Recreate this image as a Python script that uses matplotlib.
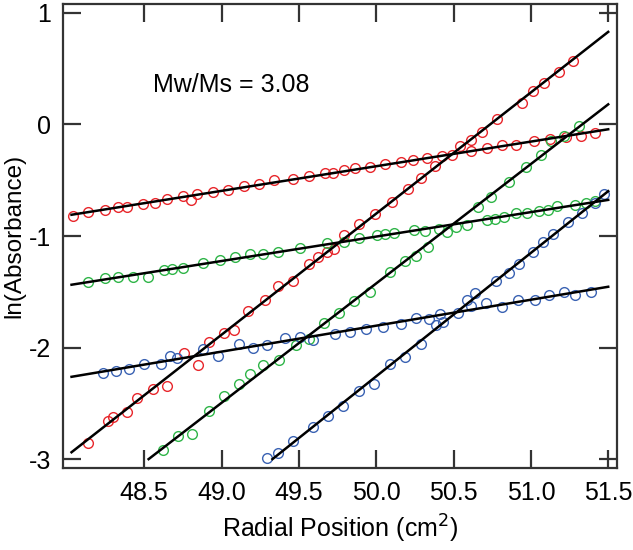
import numpy as np
import matplotlib.pyplot as plt

plt.rcParams['font.family'] = ['Liberation Sans', 'DejaVu Sans']
plt.rcParams['axes.unicode_minus'] = False

# ---- data ----
red_flat_x = [48.037, 48.134, 48.246, 48.330, 48.386, 48.494, 48.567, 48.649, 48.750, 48.802,
              48.843, 48.944, 49.043, 49.143, 49.241, 49.336, 49.463, 49.563, 49.668, 49.722,
              49.791, 49.860, 49.959, 50.060, 50.159, 50.241, 50.327, 50.426, 50.491, 50.616,
              50.717, 50.814, 50.901, 51.017, 51.121, 51.226, 51.321, 51.415]
red_flat_y = [-0.818, -0.787, -0.769, -0.737, -0.743, -0.713, -0.701, -0.668, -0.644, -0.677,
              -0.626, -0.603, -0.587, -0.549, -0.534, -0.498, -0.491, -0.465, -0.438, -0.432,
              -0.411, -0.393, -0.384, -0.357, -0.339, -0.316, -0.296, -0.283, -0.274, -0.235,
              -0.213, -0.181, -0.187, -0.145, -0.127, -0.109, -0.100, -0.079]

red_steep_x = [48.138, 48.263, 48.300, 48.386, 48.455, 48.554, 48.649, 48.759, 48.845, 48.918,
               49.017, 49.082, 49.172, 49.280, 49.366, 49.463, 49.565, 49.625, 49.683, 49.728,
               49.789, 49.888, 49.989, 50.103, 50.203, 50.287, 50.381, 50.541, 50.610, 50.683,
               50.784, 50.945, 51.013, 51.085, 51.183, 51.271]
red_steep_y = [-2.859, -2.657, -2.621, -2.578, -2.450, -2.372, -2.345, -2.052, -2.160, -1.951,
               -1.867, -1.843, -1.673, -1.577, -1.448, -1.401, -1.254, -1.186, -1.141, -1.117,
               -0.991, -0.890, -0.800, -0.692, -0.581, -0.480, -0.370, -0.193, -0.135, -0.063,
               0.051, 0.196, 0.303, 0.375, 0.468, 0.568]

green_flat_x = [48.136, 48.246, 48.330, 48.425, 48.524, 48.625, 48.681, 48.750, 48.878, 48.989,
                49.084, 49.183, 49.267, 49.364, 49.506, 49.679, 49.793, 49.888, 50.003, 50.059,
                50.114, 50.242, 50.313, 50.409, 50.518, 50.584, 50.714, 50.770, 50.828, 50.905,
                50.972, 51.053, 51.113, 51.172, 51.285, 51.354, 51.417]
green_flat_y = [-1.415, -1.374, -1.368, -1.365, -1.370, -1.308, -1.296, -1.287, -1.242, -1.213,
                -1.191, -1.161, -1.161, -1.146, -1.110, -1.065, -1.051, -1.021, -0.989, -0.980,
                -0.975, -0.949, -0.952, -0.934, -0.915, -0.901, -0.853, -0.843, -0.825, -0.791,
                -0.796, -0.774, -0.767, -0.734, -0.725, -0.704, -0.684]

green_steep_x = [48.623, 48.720, 48.806, 48.918, 49.013, 49.114, 49.183, 49.265, 49.369, 49.481,
                 49.567, 49.662, 49.761, 49.859, 49.961, 50.088, 50.185, 50.258, 50.336, 50.459,
                 50.658, 50.742, 50.856, 50.969, 51.068, 51.130, 51.216, 51.310]
green_steep_y = [-2.917, -2.794, -2.776, -2.570, -2.438, -2.330, -2.233, -2.160, -2.112, -1.978,
                 -1.926, -1.783, -1.691, -1.583, -1.502, -1.326, -1.227, -1.177, -1.096, -0.961,
                 -0.743, -0.647, -0.520, -0.384, -0.274, -0.150, -0.106, -0.016]

blue_flat_x = [48.231, 48.315, 48.401, 48.496, 48.608, 48.666, 48.709, 48.878, 48.974, 49.115,
               49.201, 49.296, 49.411, 49.506, 49.592, 49.735, 49.833, 49.933, 50.045, 50.159,
               50.260, 50.339, 50.413, 50.528, 50.614, 50.713, 50.813, 50.914, 51.029, 51.114,
               51.215, 51.285, 51.388]
blue_flat_y = [-2.227, -2.206, -2.190, -2.150, -2.145, -2.074, -2.096, -2.015, -2.074, -1.970,
               -2.002, -1.979, -1.917, -1.906, -1.933, -1.877, -1.861, -1.836, -1.819, -1.787,
               -1.731, -1.741, -1.696, -1.691, -1.623, -1.598, -1.634, -1.574, -1.574, -1.526,
               -1.502, -1.525, -1.502]

blue_steep_x = [49.295, 49.362, 49.463, 49.592, 49.689, 49.788, 49.889, 49.987, 50.090, 50.187,
                50.289, 50.384, 50.429, 50.585, 50.638, 50.772, 50.856, 50.926, 51.013, 51.081,
                51.144, 51.243, 51.329, 51.413, 51.473]
blue_steep_y = [-2.994, -2.949, -2.836, -2.716, -2.612, -2.526, -2.393, -2.330, -2.151, -2.083,
                -1.966, -1.798, -1.769, -1.577, -1.511, -1.402, -1.332, -1.249, -1.141, -1.056,
                -0.978, -0.872, -0.794, -0.701, -0.626]

x_ticks = [48.5, 49.0, 49.5, 50.0, 50.5, 51.0, 51.5]
y_ticks = [-3, -2, -1, 0, 1]

RED, GREEN, BLUE = "#e8262b", "#2fb548", "#3a62b3"

series = [
    (red_flat_x, red_flat_y, RED),
    (red_steep_x, red_steep_y, RED),
    (green_flat_x, green_flat_y, GREEN),
    (green_steep_x, green_steep_y, GREEN),
    (blue_flat_x, blue_flat_y, BLUE),
    (blue_steep_x, blue_steep_y, BLUE),
]

fig = plt.figure(figsize=(6.33, 5.5), dpi=100)
ax = fig.add_axes([0.1003, 0.149, 0.8747, 0.8437])

for xs, ys, col in series:
    ax.plot(xs, ys, "o", mfc="none", mec=col, ms=7, mew=1.0, zorder=2)

# linear fits, drawn from the left edge (or where they hit -3) to 51.5
for xs, ys, col in series:
    m, b = np.polyfit(xs, ys, 1)
    x0 = max(48.03, (-3.0 - b) / m)
    xx = np.array([x0, 51.5])
    ax.plot(xx, m * xx + b, color="black", lw=1.8, zorder=3)

ax.text(48.554, 0.354, "Mw/Ms = 3.08", fontsize=18, ha="left", va="center")

ax.set_xlim(47.978, 51.558)
ax.set_ylim(-3.08, 1.08)
ax.set_xticks(x_ticks)
ax.set_xticklabels([f"{v:.1f}" for v in x_ticks])
ax.set_yticks(y_ticks)
ax.set_yticklabels([str(v) for v in y_ticks])

ax.tick_params(direction="in", length=13, width=1.6, color="#333333",
               top=True, right=True, labelsize=18, pad=9)
for sp in ax.spines.values():
    sp.set_linewidth(1.6)
    sp.set_color("#333333")

ax.set_xlabel("Radial Position (cm$^2$)", fontsize=18, labelpad=6)
ax.set_ylabel("ln(Absorbance)", fontsize=17.5, labelpad=2)

fig.savefig("out.png", dpi=100)
